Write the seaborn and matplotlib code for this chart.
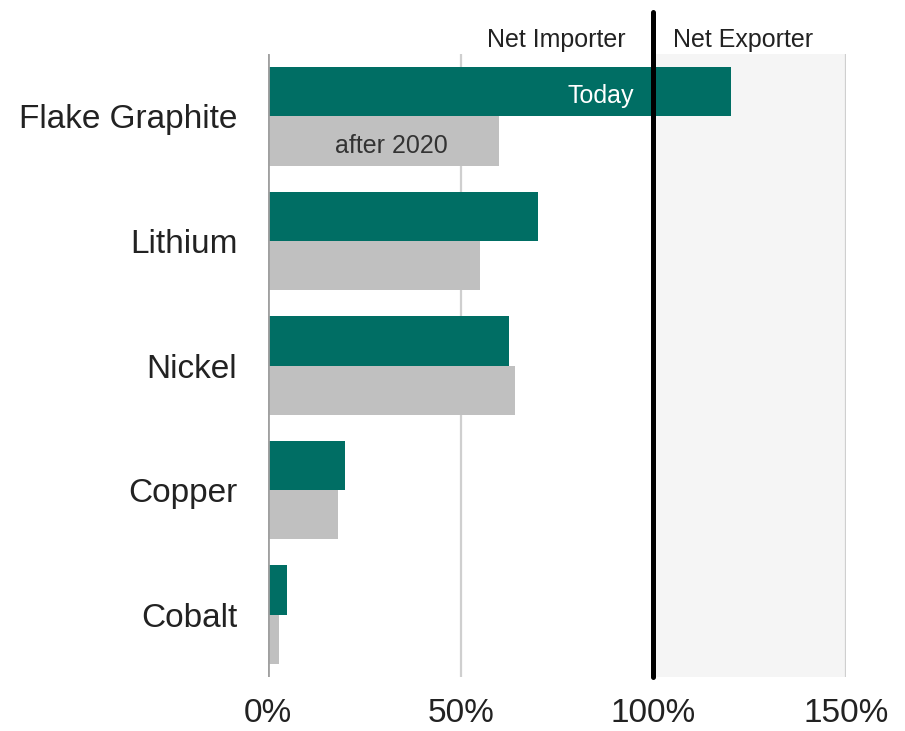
import pandas as pd
import matplotlib.pyplot as plt
import seaborn as sns

# data
minerals = ["Flake Graphite", "Lithium", "Nickel", "Copper", "Cobalt"]
today = [120, 70, 62.5, 20, 5]
after_2020 = [60, 55, 64, 18.3, 3]
x_ticks = [0, 50, 100, 150]
x_tick_labels = ["0%", "50%", "100%", "150%"]

df = pd.DataFrame({
    "Mineral": minerals * 2,
    "Share": today + after_2020,
    "Period": ["Today"] * len(minerals) + ["after 2020"] * len(minerals),
})

sns.set_style("white")
plt.rcParams['font.family'] = ['Liberation Sans', 'DejaVu Sans']

fig = plt.figure(figsize=(9.05, 7.31), dpi=100)
ax = fig.add_axes([0.296, 0.074, 0.639, 0.852])

# shaded net exporter zone and grid
ax.axvspan(100, 150, color="#f5f5f5", zorder=0)
for x in [50, 150]:
    ax.axvline(x, color="#cfcfcf", lw=1.6, zorder=0.5)
ax.axvline(0, color="#a0a0a0", lw=2, zorder=3)

sns.barplot(data=df, y="Mineral", x="Share", hue="Period", order=minerals,
            hue_order=["Today", "after 2020"],
            palette={"Today": "#006e64", "after 2020": "#c0c0c0"},
            width=0.79, linewidth=0, saturation=1, ax=ax, zorder=2)

ax.axvline(100, ymin=0, ymax=1.067, color="black", lw=3.6, zorder=4, clip_on=False)

ax.set_xlim(0, 150)
ax.set_ylim(4.5, -0.5)
ax.set_xticks(x_ticks)
ax.set_xticklabels(x_tick_labels)
ax.tick_params(axis="x", labelsize=24, length=0, pad=15, colors="#222222")
ax.tick_params(axis="y", labelsize=24, length=0, pad=22, colors="#222222")
ax.set_xlabel("")
ax.set_ylabel("")
if ax.get_legend():
    ax.get_legend().remove()
for s in ax.spines.values():
    s.set_visible(False)

# in-bar labels
ax.text(95, -0.16, "Today", color="white", fontsize=18, ha="right", va="center", zorder=5)
ax.text(32, 0.24, "after 2020", color="#333333", fontsize=18, ha="center", va="center", zorder=5)

# header labels
ax.annotate("Net Importer", xy=(100, 1.022), xycoords=("data", "axes fraction"),
            xytext=(-20, 0), textcoords="offset points", ha="right", va="center",
            fontsize=18, color="#222222")
ax.annotate("Net Exporter", xy=(100, 1.022), xycoords=("data", "axes fraction"),
            xytext=(14, 0), textcoords="offset points", ha="left", va="center",
            fontsize=18, color="#222222")

fig.savefig("out.png", dpi=100)
